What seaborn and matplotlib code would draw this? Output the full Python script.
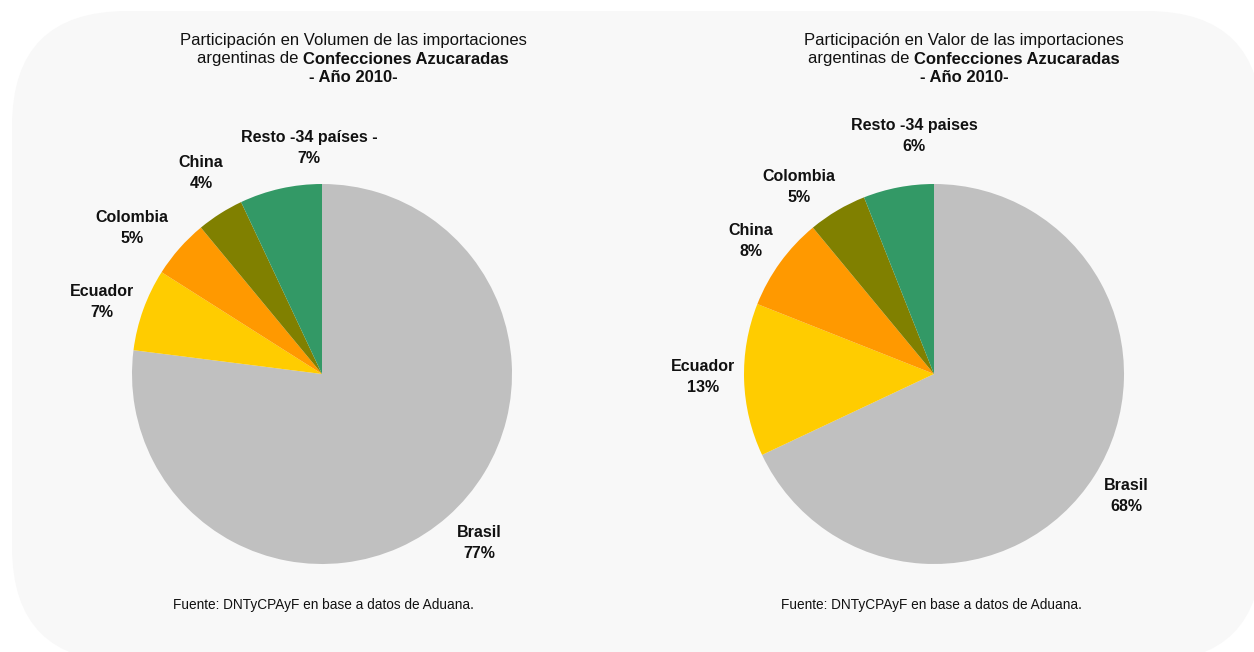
import numpy as np
import pandas as pd
import seaborn as sns
import matplotlib
matplotlib.use("Agg")
import matplotlib.pyplot as plt
from matplotlib.patches import FancyBboxPatch

# ---------------- data ----------------
vol_labels = ["Brasil", "Ecuador", "Colombia", "China", "Resto -34 países -"]
vol_values = [77, 7, 5, 4, 7]
val_labels = ["Brasil", "Ecuador", "China", "Colombia", "Resto -34 paises"]
val_values = [68, 13, 8, 5, 6]
slice_colors = ["#C0C0C0", "#FFCC00", "#FF9900", "#808000", "#339966"]

title_first = ["Participación en Volumen de las importaciones",
               "Participación en Valor de las importaciones"]
title_second_normal = "argentinas de "
title_second_bold = "Confecciones Azucaradas"
title_third = "- Año 2010-"
source_text = "Fuente: DNTyCPAyF en base a datos de Aduana."

# ---------------- layout (pixels / radius units) ----------------
W, H = 1254, 652
pie_centers = [(322, 374), (934, 374)]
pie_radius_px = 190
half_px = 250
vol_label_pos = [(0.826, -0.889), (-1.158, 0.379), (-1.0, 0.768),
                 (-0.637, 1.058), (-0.068, 1.19)]
val_label_pos = [(1.010, -0.642), (-1.216, -0.016), (-0.963, 0.700),
                 (-0.711, 0.984), (-0.105, 1.253)]
title_centers = [353, 964]
source_centers = [323, 931]

sns.set_theme(style="white")
plt.rcParams['font.family'] = ['Liberation Sans', 'DejaVu Sans']

fig = plt.figure(figsize=(W / 100, H / 100), dpi=100)
fig.patch.set_facecolor("white")

bg = fig.add_axes([0, 0, 1, 1], zorder=0)
bg.set_xlim(0, W)
bg.set_ylim(H, 0)
bg.axis("off")
bg.add_patch(FancyBboxPatch((12, 11), 1262 - 12, 662 - 11,
                            boxstyle="round,pad=0,rounding_size=115",
                            facecolor="#F8F8F8", edgecolor="none"))

datasets = [(vol_labels, vol_values, vol_label_pos),
            (val_labels, val_values, val_label_pos)]

for (labels, values, lpos), (cx, cy) in zip(datasets, pie_centers):
    ax = fig.add_axes([(cx - half_px) / W, (H - cy - half_px) / H,
                       2 * half_px / W, 2 * half_px / H], zorder=1)
    ax.patch.set_alpha(0)
    lim = half_px / pie_radius_px
    ax.pie(values, colors=slice_colors, startangle=90, counterclock=False,
           radius=1, wedgeprops=dict(linewidth=0))
    ax.set_xlim(-lim, lim)
    ax.set_ylim(-lim, lim)
    ax.set_aspect("equal")
    ax.axis("off")
    for lab, v, (lx, ly) in zip(labels, values, lpos):
        ax.text(lx, ly, f"{lab}\n{v}%", ha="center", va="center",
                fontsize=11.5, fontweight="bold", color="#111111",
                linespacing=1.45)

renderer = fig.canvas.get_renderer()
for t1, xc, sx in zip(title_first, title_centers, source_centers):
    bg.text(xc, 40, t1, ha="center", va="center", fontsize=12, color="#111111")
    a = bg.text(0, 59, title_second_normal, ha="left", va="center",
                fontsize=12, color="#111111")
    b = bg.text(0, 59, title_second_bold, ha="left", va="center",
                fontsize=12, fontweight="bold", color="#111111")
    wa = a.get_window_extent(renderer).width
    wb = b.get_window_extent(renderer).width
    x0 = xc - (wa + wb) / 2
    a.set_x(x0)
    b.set_x(x0 + wa)
    bg.text(xc, 78, title_third, ha="center", va="center", fontsize=12,
            fontweight="bold", color="#111111")
    bg.text(sx, 605, source_text, ha="center", va="center", fontsize=9.8,
            color="#111111")

fig.savefig("out.png", dpi=100, facecolor="white")
